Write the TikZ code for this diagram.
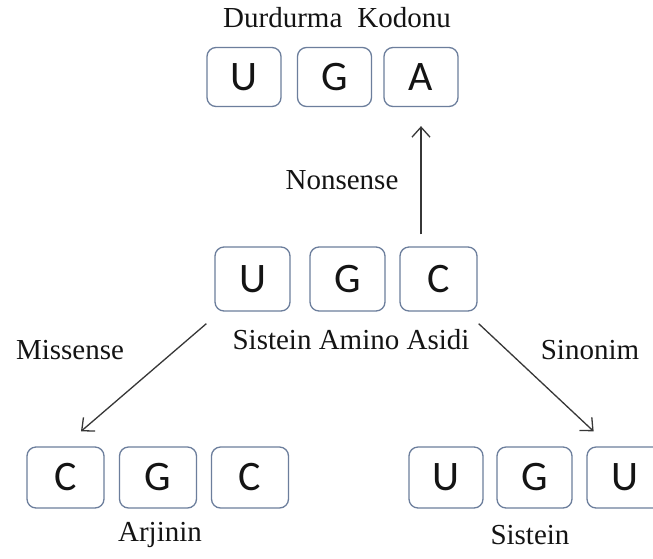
\documentclass[tikz,border=0pt]{standalone}
\usepackage{fontspec}
\setmainfont{Liberation Serif}
\newfontfamily\boxfont{Carlito}
\usetikzlibrary{arrows.meta}
\definecolor{boxline}{RGB}{108,126,156}
\definecolor{arrline}{RGB}{55,55,55}
\definecolor{txt}{RGB}{20,20,20}
\tikzset{
  base/.style={draw=boxline, line width=1.3pt, rounded corners=9pt, minimum width=75pt, minimum height=61pt, inner sep=0pt, font=\boxfont\fontsize{42}{46}\selectfont, text=txt},
  lbl/.style={inner sep=0pt, font=\fontsize{29}{32}\selectfont, text=txt},
  arr/.style={draw=arrline, line width=1.3pt, -{Straight Barb[length=10pt,width=18pt,line width=1.3pt]}}
}
\begin{document}
\begin{tikzpicture}[x=1pt,y=-1pt]
\clip (0,0) rectangle (653,558);
\fill[white] (0,0) rectangle (653,558);
% top row
\node[base, minimum height=59pt, minimum width=74pt] (tU) at (244,77) {U};
\node[base, minimum height=59pt, minimum width=74pt] (tG) at (334.5,77) {G};
\node[base, minimum height=59pt, minimum width=74pt] (tA) at (421,77) {A};
\node[lbl] (tl) at (337,18) {Durdurma\hspace{15pt}Kodonu};
% middle row
\node[base, minimum height=64pt] (mU) at (252.5,279) {U};
\node[base, minimum height=64pt] (mG) at (347.5,279) {G};
\node[base, minimum height=64pt, minimum width=77pt] (mC) at (438.5,279) {C};
\node[lbl] (ml) at (351,340) {Sistein Amino Asidi};
% bottom left
\node[base, minimum width=77pt] (lC1) at (65.5,477.5) {C};
\node[base, minimum width=77pt] (lG) at (158,477.5) {G};
\node[base, minimum width=77pt] (lC2) at (250,477.5) {C};
\node[lbl] (ll) at (160,535) {Arjinin};
% bottom right
\node[base, minimum width=74pt] (rU1) at (446,477.5) {U};
\node[base, minimum width=75pt] (rG) at (534.5,477.5) {G};
\node[base, minimum width=76pt] (rU2) at (625,477.5) {U};
\node[lbl] (rl) at (530,535) {Sistein};
% side labels
\node[lbl] (nons) at (342,180) {Nonsense};
\node[lbl] (miss) at (70,350) {Missense};
\node[lbl] (sino) at (590,350) {Sinonim};
% arrows
\draw[arr] ([yshift=12pt]tA.south |- mC.north) -- ([yshift=-19pt]tA.south);
\draw[arr] ([shift={(-8,12)}]mU.south west) -- ([shift={(15.5,-15)}]lC1.north);
\draw[arr] ([shift={(1,12)}]mC.south east) -- ([shift={(21,-15)}]rG.north east);
\end{tikzpicture}
\end{document}
